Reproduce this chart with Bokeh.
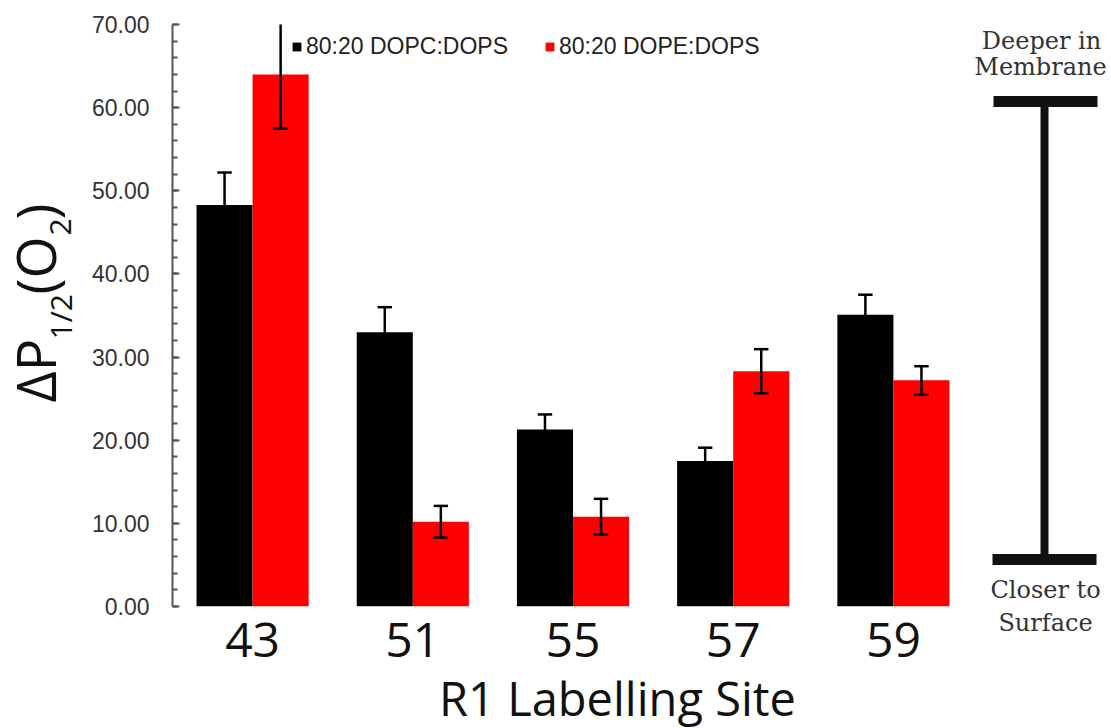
from bokeh.plotting import figure
from bokeh.layouts import row, column
from bokeh.models import (Range1d, FixedTicker, PrintfTickFormatter, Legend, LegendItem,
                          ColumnDataSource)
from bokeh.core.properties import value
from bokeh.embed import file_html
from bokeh.resources import INLINE
import math

sites = ["43", "51", "55", "57", "59"]
dopc = [48.3, 33.0, 21.3, 17.5, 35.1]
dopc_err = [3.9, 3.0, 1.8, 1.6, 2.4]
dope = [64.0, 10.2, 10.8, 28.3, 27.2]
dope_err = [6.5, 1.9, 2.15, 2.65, 1.7]
series_names = ["80:20 DOPC:DOPS", "80:20 DOPE:DOPS"]
y_ticks = [0, 10, 20, 30, 40, 50, 60, 70]
x_title = "R1 Labelling Site"

H = 727
MH = 680      # main chart height (title strip below)
LW = 88       # left (y-title) panel width
MW = 877      # main figure width
RW = 145      # right (depth scale) panel width

OFF = 0.175
W = 0.35
CAP = 0.045

xs = [i + 0.5 for i in range(len(sites))]

# ---------------- main chart ----------------
p = figure(width=MW, height=MH, x_range=Range1d(0, 4.95), y_range=Range1d(0, 70),
           output_backend="svg", toolbar_location=None, title=None, frame_align=False,
           min_border_left=82, min_border_right=0, min_border_top=24, min_border_bottom=MH - 606)
p.grid.visible = False
p.outline_line_color = None

def bars(vals, errs, off, color):
    x = [xx + off for xx in xs]
    src = ColumnDataSource(dict(x=x, top=vals,
                                lo=[v - e for v, e in zip(vals, errs)],
                                hi=[v + e for v, e in zip(vals, errs)],
                                cl=[xx - CAP for xx in x], cr=[xx + CAP for xx in x]))
    r = p.vbar(x="x", top="top", bottom=0, width=W, source=src, fill_color=color, line_color=None)
    p.segment(x0="x", y0="lo", x1="x", y1="hi", source=src, line_color="black", line_width=2.5)
    p.segment(x0="cl", y0="hi", x1="cr", y1="hi", source=src, line_color="black", line_width=2.5)
    p.segment(x0="cl", y0="lo", x1="cr", y1="lo", source=src, line_color="black", line_width=2.5)
    return r

rb = bars(dopc, dopc_err, -OFF, "#000000")
rr = bars(dope, dope_err, OFF, "#ff0000")

ya = p.yaxis[0]
ya.ticker = FixedTicker(ticks=y_ticks, minor_ticks=list(range(0, 71, 2)))
ya.formatter = PrintfTickFormatter(format="%.2f")
ya.axis_line_color = "#555555"
ya.axis_line_width = 2
ya.major_tick_line_color = "#555555"
ya.minor_tick_line_color = "#555555"
ya.major_tick_line_width = 2
ya.minor_tick_line_width = 2
ya.major_tick_in = 7
ya.major_tick_out = 0
ya.minor_tick_in = 5
ya.minor_tick_out = 0
ya.major_label_text_font = "Liberation Sans"
ya.major_label_text_font_size = "23px"
ya.major_label_text_color = "#333333"
ya.major_label_standoff = 23

xa = p.xaxis[0]
xa.ticker = FixedTicker(ticks=xs)
xa.major_label_overrides = {xx: s for xx, s in zip(xs, sites)}
xa.axis_line_color = None
xa.major_tick_line_color = None
xa.minor_tick_line_color = None
xa.major_label_text_font = "Open Sans"
xa.major_label_text_font_size = "48px"
xa.major_label_text_color = "#111111"
xa.major_label_standoff = 10

legend = Legend(items=[LegendItem(label=series_names[0], renderers=[rb]),
                       LegendItem(label=series_names[1], renderers=[rr])],
                orientation="horizontal", location=(119, 546),
                glyph_width=11, glyph_height=11, label_standoff=4, spacing=36,
                padding=0, margin=0, border_line_color=None, background_fill_alpha=0,
                label_text_font="Liberation Sans", label_text_font_size="23px",
                label_text_color="#222222")
p.add_layout(legend)

def blank(width, height):
    f = figure(width=width, height=height, output_backend="svg", toolbar_location=None, title=None,
               x_axis_type=None, y_axis_type=None, frame_align=False,
               min_border_left=0, min_border_right=0, min_border_top=0, min_border_bottom=0)
    f.grid.visible = False
    f.outline_line_color = None
    return f

# ---------------- bottom strip: x-axis title ----------------
BH = H - MH
bottom = blank(MW, BH)
bottom.x_range = Range1d(LW, LW + MW)
bottom.y_range = Range1d(0, BH)
bottom.text(x=[617], y=[H - 697], text=[x_title], text_align="center", text_baseline="alphabetic",
            text_font=value("Open Sans"), text_font_size="47px", text_color="#111111")

# ---------------- left panel: y-axis title with subscripts ----------------
left = blank(LW, H)
left.x_range = Range1d(0, LW)
left.y_range = Range1d(0, H)
A = math.pi / 2
ytitle_parts = [("ΔP", 34, 402, "54px"), ("1/2", 60, 339, "30px"), ("(O", 34, 294, "54px"),
                ("2", 60, 235, "30px"), (")", 34, 219, "54px")]
for txt, bx, by, fs in ytitle_parts:
    left.text(x=[bx], y=[H - by], text=[txt], angle=A, text_align="left",
              text_baseline="alphabetic", text_font=value("Open Sans"),
              text_font_size=fs, text_color="#111111")

# ---------------- right panel: depth scale ----------------
X0 = LW + MW
right = blank(RW, H)
right.x_range = Range1d(X0, X0 + RW)
right.y_range = Range1d(0, H)
right.segment(x0=[993, 992], y0=[H - 101, H - 559], x1=[1097, 1096], y1=[H - 101, H - 559],
              line_color="#111111", line_width=11, line_cap="butt")
right.segment(x0=[1044], y0=[H - 101], x1=[1044], y1=[H - 559],
              line_color="#111111", line_width=8, line_cap="butt")
scale_texts = [("Deeper in", 1041, 40), ("Membrane", 1040, 66),
               ("Closer to", 1045, 589), ("Surface", 1045, 622)]
for txt, cx, by in scale_texts:
    right.text(x=[cx], y=[H - by], text=[txt], text_align="center", text_baseline="alphabetic",
               text_font=value("DejaVu Serif"), text_font_size="24px", text_color="#333333")

layout = row(left, column(p, bottom, spacing=0), right, spacing=0)
open("out.html", "w").write(file_html(layout, INLINE))
